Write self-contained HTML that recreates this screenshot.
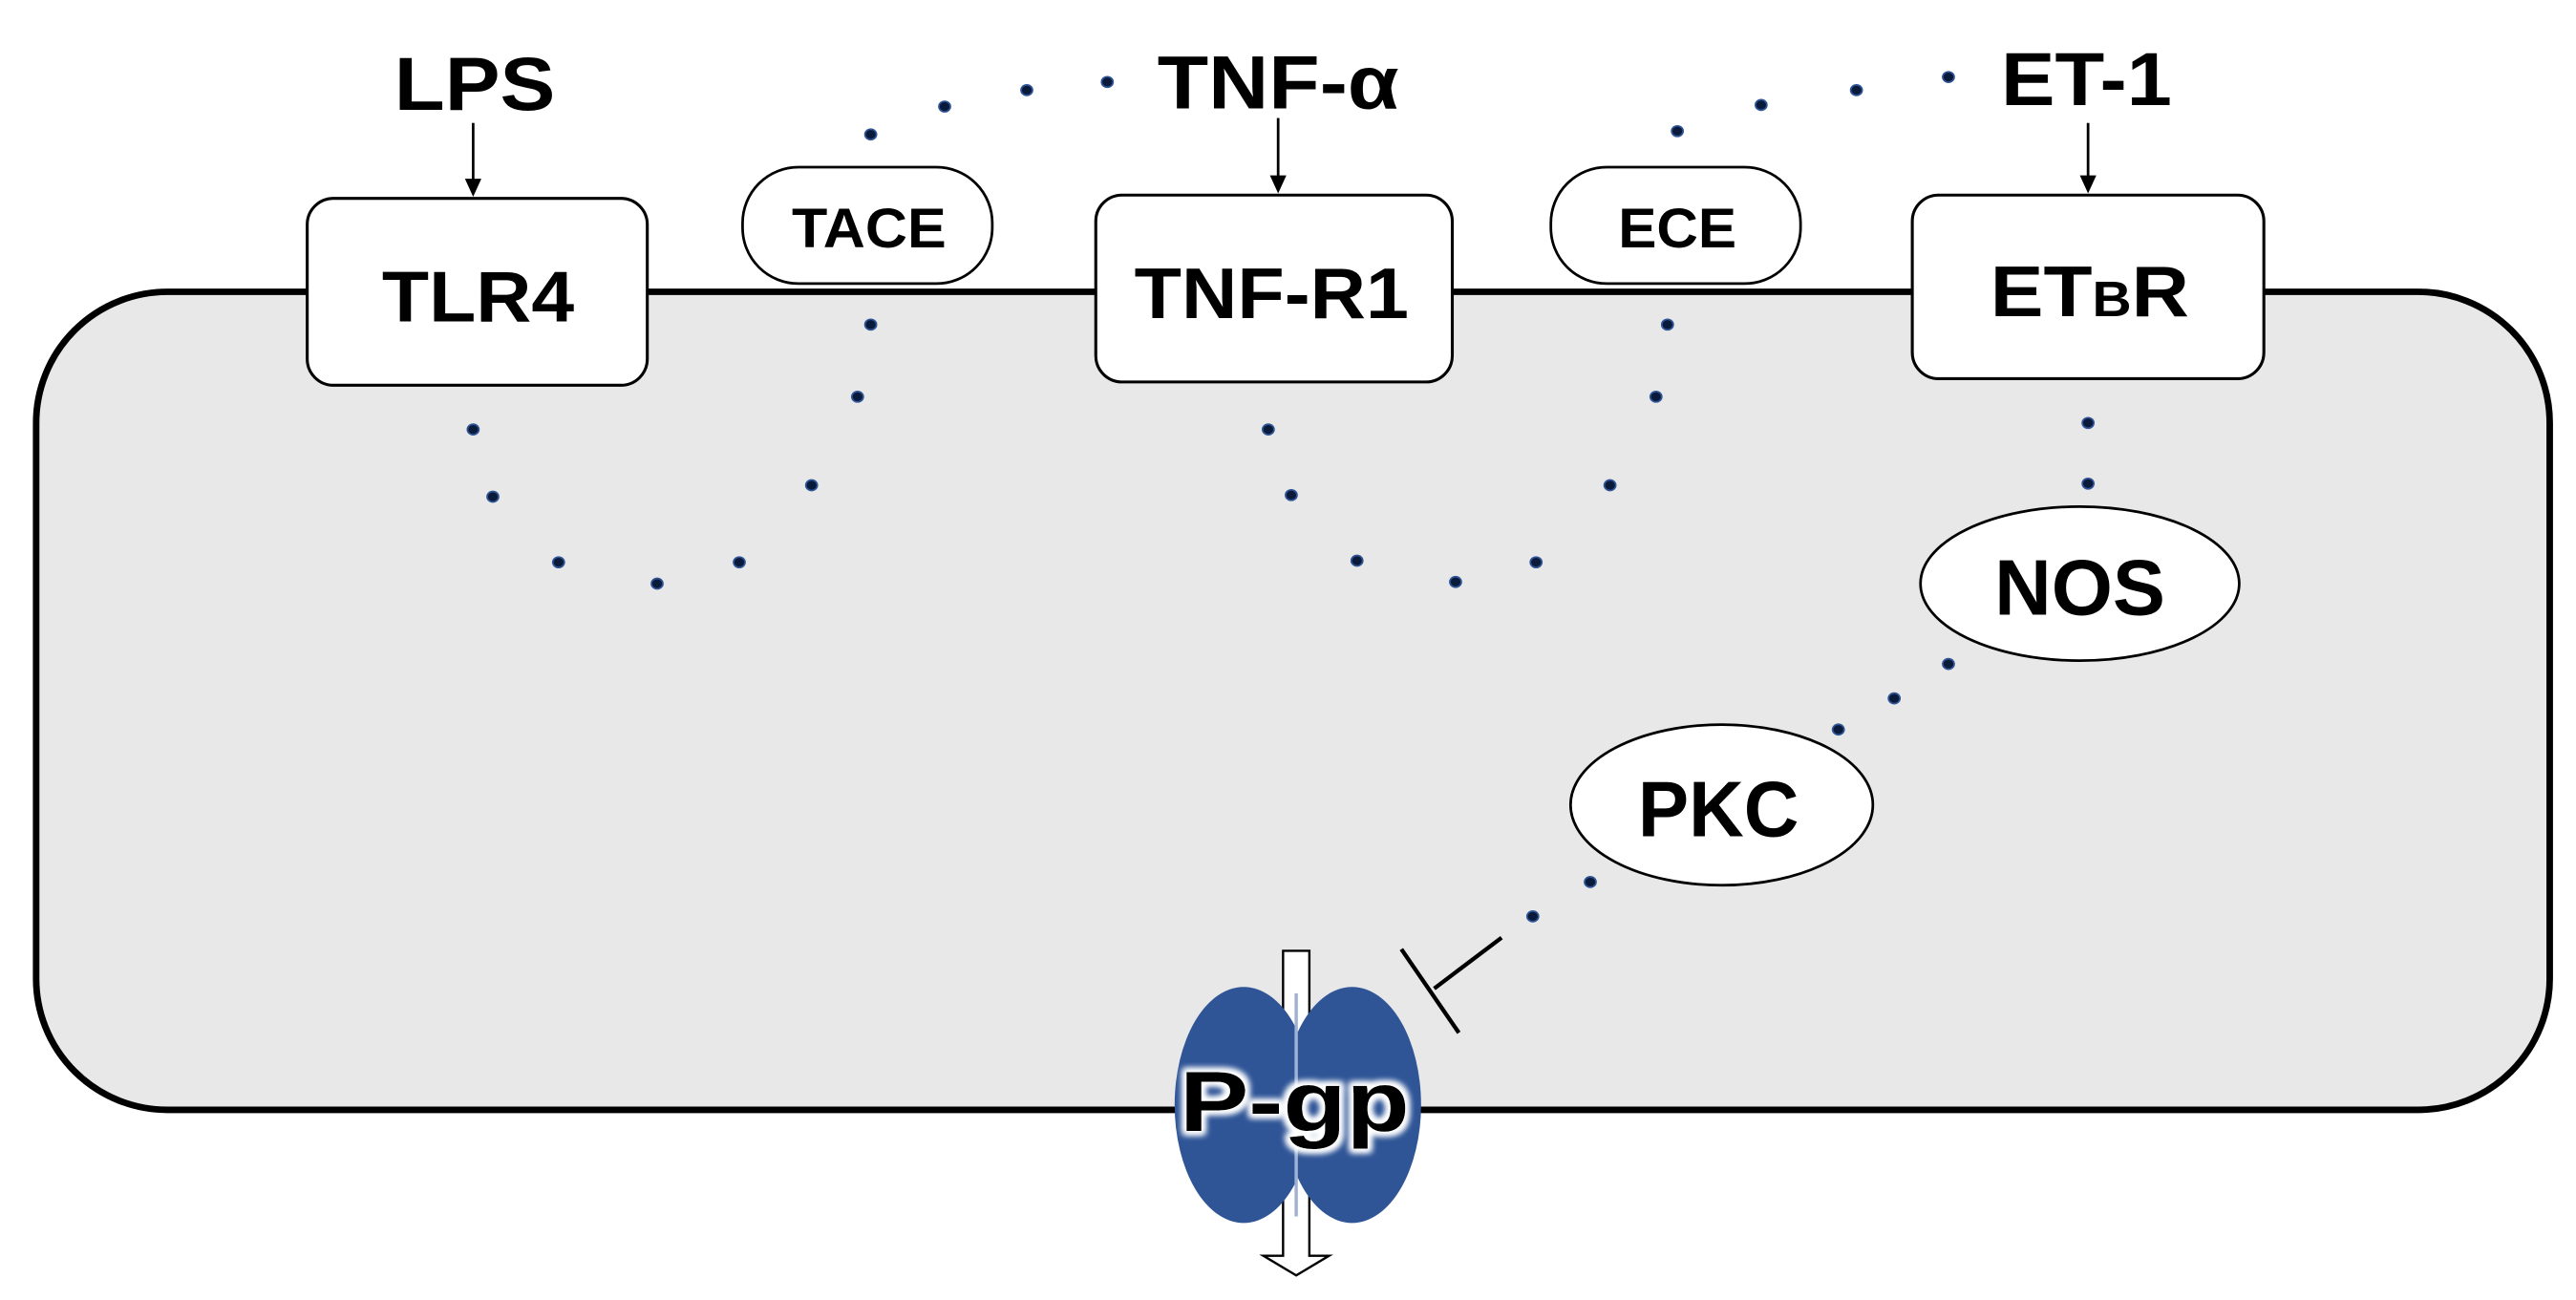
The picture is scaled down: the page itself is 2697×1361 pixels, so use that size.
<!DOCTYPE html>
<html><head><meta charset="utf-8"><style>
html,body{margin:0;padding:0;background:#fff;}
svg{display:block;}
text{font-family:"Liberation Sans",sans-serif;font-weight:bold;fill:#000;text-anchor:middle;}
</style></head><body>
<svg width="2697" height="1361" viewBox="0 0 1568 793" preserveAspectRatio="none" xmlns="http://www.w3.org/2000/svg">
<defs>
<filter id="glow" x="-20%" y="-20%" width="140%" height="140%">
<feMorphology operator="dilate" radius="2" in="SourceAlpha" result="d"/>
<feGaussianBlur in="d" stdDeviation="2" result="b"/>
<feFlood flood-color="#fff"/><feComposite in2="b" operator="in" result="w"/>
<feMerge><feMergeNode in="w"/><feMergeNode in="w"/><feMergeNode in="SourceGraphic"/></feMerge>
</filter>
</defs>
<!-- cell -->
<rect x="22" y="178" width="1530" height="499" rx="80" ry="80" fill="#e8e8e8" stroke="#000" stroke-width="4"/>
<!-- top labels & arrows -->
<text x="289" y="67" font-size="46" textLength="98" lengthAdjust="spacingAndGlyphs">LPS</text>
<line x1="288" y1="75" x2="288" y2="110" stroke="#000" stroke-width="1.6"/>
<polygon points="283,109 293,109 288,120" fill="#000"/>
<text x="778" y="66" font-size="46" textLength="147" lengthAdjust="spacingAndGlyphs">TNF-α</text>
<line x1="778" y1="72" x2="778" y2="108" stroke="#000" stroke-width="1.6"/>
<polygon points="773,107 783,107 778,118" fill="#000"/>
<text x="1270" y="64" font-size="46" textLength="104" lengthAdjust="spacingAndGlyphs">ET-1</text>
<line x1="1271" y1="75" x2="1271" y2="108" stroke="#000" stroke-width="1.6"/>
<polygon points="1266,107 1276,107 1271,118" fill="#000"/>
<!-- receptors -->
<rect x="187" y="121" width="207" height="114" rx="16" fill="#fff" stroke="#000" stroke-width="1.8"/>
<text x="291" y="196" font-size="44" textLength="117" lengthAdjust="spacingAndGlyphs">TLR4</text>
<rect x="667" y="119" width="217" height="114" rx="16" fill="#fff" stroke="#000" stroke-width="1.8"/>
<text x="774" y="194" font-size="44" textLength="167" lengthAdjust="spacingAndGlyphs">TNF-R1</text>
<rect x="1164" y="119" width="214" height="112" rx="16" fill="#fff" stroke="#000" stroke-width="1.8"/>
<text x="1272" y="193" font-size="44" textLength="121" lengthAdjust="spacingAndGlyphs">ET<tspan font-size="30">B</tspan>R</text>
<rect x="452" y="102" width="152" height="71" rx="34" fill="#fff" stroke="#000" stroke-width="1.6"/>
<text x="529" y="151" font-size="34" textLength="94" lengthAdjust="spacingAndGlyphs">TACE</text>
<rect x="944" y="102" width="152" height="71" rx="34" fill="#fff" stroke="#000" stroke-width="1.6"/>
<text x="1021" y="151" font-size="34" textLength="72" lengthAdjust="spacingAndGlyphs">ECE</text>
<!-- ellipses -->
<ellipse cx="1266" cy="356" rx="97" ry="47" fill="#fff" stroke="#000" stroke-width="1.6"/>
<text x="1266" y="375" font-size="48" textLength="104" lengthAdjust="spacingAndGlyphs">NOS</text>
<ellipse cx="1048" cy="491" rx="92" ry="49" fill="#fff" stroke="#000" stroke-width="1.6"/>
<text x="1046" y="510" font-size="48" textLength="98" lengthAdjust="spacingAndGlyphs">PKC</text>
<!-- dots -->
<g fill="#0a1a3a" stroke="#2f5597" stroke-width="1">
<ellipse cx="530" cy="82" rx="3.5" ry="3.2"/><ellipse cx="575" cy="65" rx="3.5" ry="3.2"/><ellipse cx="625" cy="55" rx="3.5" ry="3.2"/><ellipse cx="674" cy="50" rx="3.5" ry="3.2"/>
<ellipse cx="530" cy="198" rx="3.5" ry="3.2"/><ellipse cx="522" cy="242" rx="3.5" ry="3.2"/><ellipse cx="494" cy="296" rx="3.5" ry="3.2"/><ellipse cx="450" cy="343" rx="3.5" ry="3.2"/><ellipse cx="400" cy="356" rx="3.5" ry="3.2"/><ellipse cx="340" cy="343" rx="3.5" ry="3.2"/><ellipse cx="300" cy="303" rx="3.5" ry="3.2"/><ellipse cx="288" cy="262" rx="3.5" ry="3.2"/>
<ellipse cx="1021" cy="80" rx="3.5" ry="3.2"/><ellipse cx="1072" cy="64" rx="3.5" ry="3.2"/><ellipse cx="1130" cy="55" rx="3.5" ry="3.2"/><ellipse cx="1186" cy="47" rx="3.5" ry="3.2"/>
<ellipse cx="1015" cy="198" rx="3.5" ry="3.2"/><ellipse cx="1008" cy="242" rx="3.5" ry="3.2"/><ellipse cx="980" cy="296" rx="3.5" ry="3.2"/><ellipse cx="935" cy="343" rx="3.5" ry="3.2"/><ellipse cx="886" cy="355" rx="3.5" ry="3.2"/><ellipse cx="826" cy="342" rx="3.5" ry="3.2"/><ellipse cx="786" cy="302" rx="3.5" ry="3.2"/><ellipse cx="772" cy="262" rx="3.5" ry="3.2"/>
<ellipse cx="1271" cy="258" rx="3.5" ry="3.2"/><ellipse cx="1271" cy="295" rx="3.5" ry="3.2"/>
<ellipse cx="1186" cy="405" rx="3.5" ry="3.2"/><ellipse cx="1153" cy="426" rx="3.5" ry="3.2"/><ellipse cx="1119" cy="445" rx="3.5" ry="3.2"/>
<ellipse cx="968" cy="538" rx="3.5" ry="3.2"/><ellipse cx="933" cy="559" rx="3.5" ry="3.2"/>
</g>
<!-- inhibition -->
<line x1="914" y1="572" x2="873" y2="603" stroke="#000" stroke-width="2.5"/>
<line x1="853" y1="579" x2="888" y2="630" stroke="#000" stroke-width="2.5"/>
<!-- P-gp -->
<path d="M781,580 L797,580 L797,766 L809,766 L789,778 L769,766 L781,766 Z" fill="#fff" stroke="#000" stroke-width="1.4"/>
<ellipse cx="757" cy="674" rx="42" ry="72" fill="#2f5597"/>
<ellipse cx="823" cy="674" rx="42" ry="72" fill="#2f5597"/>
<line x1="789" y1="606" x2="789" y2="742" stroke="#9fb2d4" stroke-width="2"/>
<text x="788" y="690" font-size="52" textLength="140" lengthAdjust="spacingAndGlyphs" filter="url(#glow)">P-gp</text>
</svg>
</body></html>
